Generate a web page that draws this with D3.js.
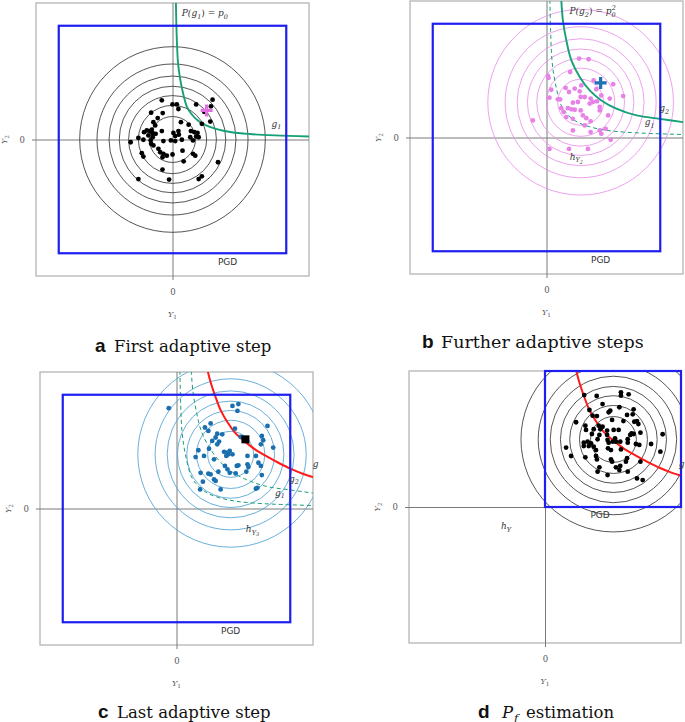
<!DOCTYPE html>
<html><head><meta charset="utf-8">
<script src="https://cdn.jsdelivr.net/npm/d3@7"></script>
<style>body{margin:0;background:#fff}svg{display:block}</style>
</head><body>
<svg id="chart" width="685" height="722"></svg>
<script>
// ---------------- DATA ----------------
const axisDomain = [-6, 6];
const zeroTick = [0];
const contourRadii = [4.08, 3.32, 2.79, 2.34, 1.93, 1.50, 1.01];
const centerA = [0, 0];
const centerB = [1.5, 1.55];
const centerC = [2.38, 2.38];
const centerD = [3.02, 2.98];
const pgdFull = [[-5, -5], [5, 5]];
const pgdQuadrant = [[0, 0], [6, 6]];

const samplesA = [[-0.47,1.72],[0,1.54],[0.19,1.54],[0.26,1.34],[-0.94,1.18],[-0.43,1.16],[-0.65,0.94],[-0.84,0.76],[-0.76,0.62],[0.37,0.76],[0.71,0.65],[1.29,0.69],[1.76,1.75],[1.69,1.46],[1.40,1.21],[1.66,0.79],[1.04,1.54],[-1.25,0.32],[-1.13,0.40],[-1.01,0.37],[-0.91,0.43],[-0.87,0.28],[-0.74,0.25],[-1.06,0.18],[-0.47,0.37],[0.04,0.29],[0.26,0.37],[0.12,0.15],[0.28,0.21],[0.81,0.37],[0.96,0.32],[1.10,0.29],[1.04,0.13],[1.15,0.10],[0.78,0.10],[-1.50,0.07],[-1.84,-0.12],[-1.28,-0.01],[-0.96,-0.04],[-0.94,-0.19],[-0.84,-0.26],[-0.40,-0.07],[-0.07,-0.04],[0.12,-0.07],[0.41,-0.01],[0.90,-0.04],[-0.54,-0.56],[-0.40,-0.63],[-0.25,-0.71],[-0.44,-0.78],[0,-0.66],[0.44,-0.49],[0.90,-0.63],[1.0,-0.71],[0.49,-0.96],[-1.35,-0.60],[-1.28,-0.75],[-0.44,-1.32],[-1.50,-1.74],[-0.15,-1.76],[1.15,-1.74],[1.29,-1.62],[2.0,-1.0],[-0.62,-0.41],[-0.87,0.10]];

const samplesB = [[1.43,3.47],[1.85,3.44],[1.04,2.88],[0.06,2.71],[0.09,2.62],[0.21,2.10],[0.13,1.75],[-0.60,0.75],[2.07,2.51],[2.93,2.34],[3.37,1.82],[2.78,1.71],[2.41,1.85],[2.19,2.12],[0.84,2.18],[0.99,2.0],[1.24,2.15],[1.53,2.29],[1.46,2.03],[1.68,1.78],[1.5,1.78],[1.94,1.71],[0.60,1.68],[1.16,1.53],[1.38,1.56],[1.90,1.49],[2.04,1.56],[2.22,1.59],[2.34,1.34],[0.65,1.29],[0.75,1.12],[0.94,1.29],[1.09,1.24],[1.24,1.22],[0.87,0.90],[1.16,0.82],[1.5,1.19],[1.60,0.97],[1.75,0.85],[1.68,0.53],[1.94,0.71],[2.34,1.19],[2.71,0.97],[1.16,0.31],[1.94,0.24],[2.34,0.31],[2.41,0.16],[2.6,0.38],[0.99,-0.5],[1.82,-0.5],[0.13,-0.5],[2.82,-0.1],[0.5,1.68]];

const samplesC = [[-0.34,4.41],[2.46,4.51],[2.72,4.59],[2.68,4.29],[4.0,3.63],[1.25,3.56],[1.40,3.41],[1.79,3.29],[1.72,3.12],[2.01,3.26],[2.57,3.51],[2.82,3.15],[3.01,3.0],[3.75,3.19],[3.81,3.0],[3.71,2.82],[4.25,2.68],[1.57,2.97],[1.87,2.94],[1.79,2.82],[0.96,2.56],[1.43,2.63],[0.84,2.26],[1.21,2.31],[1.65,2.16],[2.09,2.49],[2.24,2.46],[2.34,2.53],[2.19,2.31],[2.28,2.38],[2.46,2.38],[3.12,2.31],[3.49,2.31],[1.06,1.57],[1.40,1.53],[1.5,1.5],[1.84,1.62],[2.13,1.87],[2.24,1.72],[2.65,1.87],[2.72,1.90],[3.12,1.94],[3.16,1.82],[3.6,2.01],[3.71,1.87],[2.34,1.57],[2.60,1.54],[3.75,1.47],[1.65,1.28],[1.72,1.21],[1.94,0.84],[1.04,0.84],[3.49,0.87],[3.56,0.91],[3.07,1.62],[1.16,1.18],[1.5,3.74]];

const samplesD = [[2.28,4.90],[3.35,5.06],[3.35,4.91],[3.69,4.97],[1.96,4.28],[2.54,4.54],[3.28,4.40],[2.10,4.03],[2.29,4.01],[2.88,4.25],[2.81,4.18],[3.91,4.31],[3.87,4.09],[3.62,4.06],[2.96,3.84],[1.37,3.74],[1.78,3.59],[2.37,3.59],[2.54,3.54],[3.46,3.79],[3.94,3.76],[4.12,3.66],[4.06,3.79],[1.81,3.40],[2.15,3.43],[2.44,3.43],[2.74,3.37],[3.03,3.40],[3.25,3.40],[4.21,3.28],[3.82,3.25],[3.76,3.18],[3.91,3.22],[2.07,3.22],[2.40,3.18],[2.74,3.18],[5.19,3.21],[2.32,2.99],[2.76,2.96],[3.09,3.03],[3.65,2.99],[1.71,2.84],[1.88,2.88],[2.03,2.81],[2.81,2.84],[2.99,2.88],[3.13,2.88],[3.32,2.88],[3.65,2.84],[4.01,2.78],[4.16,2.74],[4.68,2.78],[0.93,2.62],[1.71,2.69],[1.93,2.69],[2.15,2.66],[2.25,2.51],[2.78,2.59],[2.91,2.51],[3.35,2.54],[1.15,2.25],[1.78,2.19],[2.25,2.25],[2.29,2.10],[2.91,2.10],[2.96,2.0],[3.57,2.0],[3.62,2.15],[4.21,2.0],[5.09,2.44],[2.4,1.75],[3.13,1.75],[3.28,1.63],[3.32,1.81],[2.76,1.41],[2.32,1.56],[4.06,1.26],[4.31,1.19],[3.65,1.56],[1.73,4.94]];

const curveG1 = [[0.15,6.05],[0.18,4.7],[0.24,3.4],[0.33,2.7],[0.45,2.1],[0.63,1.45],[0.85,1.1],[1.1,0.85],[1.45,0.63],[1.9,0.47],[2.6,0.32],[3.4,0.24],[4.5,0.18],[6.05,0.13]];
const curveG2 = [[0.65,6.05],[0.72,5.16],[0.87,4.28],[1.09,3.40],[1.46,2.66],[1.9,2.07],[2.41,1.63],[3.07,1.27],[3.96,0.97],[4.98,0.82],[6.05,0.67]];
const curveG = [[1.37,6.05],[1.5,5.55],[1.7,4.95],[1.95,4.3],[2.25,3.78],[2.6,3.3],[3.0,2.95],[3.45,2.6],[3.95,2.3],[4.5,2.0],[5.05,1.73],[5.55,1.53],[6.05,1.37]];

const designPointA = [1.5, 1.28];
const designPointB = [2.38, 2.40];
const designPointC = [3.03, 3.04];

const captionLetters = ["a", "b", "c", "d"];
const captionTexts = ["First adaptive step", "Further adaptive steps", "Last adaptive step", "estimation"];

// ---------------- STYLE / LAYOUT ----------------
const GREEN = "#16a077", RED = "#ff1a1a", BLUE = "#1e1ef0", VIOLET = "#e98ae9", STEEL = "#1b6fae";
const SERIF = "'DejaVu Serif', 'Liberation Serif', serif";
const svg = d3.select("#chart");
const defs = svg.append("defs");

const panels = [
  {key:"a", left:36, top:3, size:273,
   circles:{center:centerA, color:"#2a2a2a", w:0.8},
   dots:{data:samplesA, color:"#000"},
   curves:[{data:curveG1, color:GREEN, w:1.9}],
   box:pgdFull, pgdAt:[2.42,-5.38],
   marker:{type:"plus", at:designPointA, color:"#e070e0"},
   labels:[{parts:[["P(g",1],["1",1,"sub"],[") = ",0],["p",1],["0",1,"sub"]], at:[0.41,5.43], anchor:"start"},
           {parts:[["g",1],["1",1,"sub"]], at:[4.57,0.57], anchor:"middle"}]},
  {key:"b", left:410, top:1, size:273,
   circles:{center:centerB, color:VIOLET, w:0.8},
   dots:{data:samplesB, color:"#e783e7"},
   curves:[{data:curveG1, color:GREEN, w:1, dash:"4,3"},{data:curveG2, color:GREEN, w:1.9}],
   box:pgdFull, pgdAt:[2.38,-5.36],
   marker:{type:"plus", at:designPointB, color:"#1f72b4"},
   labels:[{parts:[["P(g",1],["2",1,"sub"],[") = ",0],["p",1],["0",1,"sub"],["2",1,"sup"]], at:[1.01,5.43], anchor:"start"},
           {parts:[["g",1],["2",1,"sub"]], at:[5.17,1.15], anchor:"middle"},
           {parts:[["g",1],["1",1,"sub"]], at:[4.54,0.53], anchor:"middle"},
           {parts:[["h",1],["Y",1,"sub"],["2",1,"subsub"]], at:[1.31,-0.98], anchor:"middle"}]},
  {key:"c", left:40, top:372, size:273,
   circles:{center:centerC, color:"#5aa6d6", w:0.9},
   dots:{data:samplesC, color:STEEL},
   curves:[{data:curveG1, color:GREEN, w:1, dash:"4,3"},{data:curveG2, color:GREEN, w:1, dash:"4,3"},{data:curveG, color:RED, w:2}],
   box:pgdFull, pgdAt:[2.38,-5.38],
   marker:{type:"square", at:designPointC, color:"#000"},
   labels:[{parts:[["g",1]], at:[6.12,1.81], anchor:"middle"},
           {parts:[["g",1],["2",1,"sub"]], at:[5.16,1.18], anchor:"middle"},
           {parts:[["g",1],["1",1,"sub"]], at:[4.55,0.57], anchor:"middle"},
           {parts:[["h",1],["Y",1,"sub"],["3",1,"subsub"]], at:[3.34,-1.05], anchor:"middle"}]},
  {key:"d", left:409, top:371, size:272,
   circles:{center:centerD, color:"#2a2a2a", w:0.8},
   dots:{data:samplesD, color:"#000"},
   curves:[{data:curveG, color:RED, w:2}],
   box:pgdQuadrant, pgdAt:[2.43,-0.35],
   labels:[{parts:[["g",1]], at:[6.03,1.75], anchor:"middle"},
           {parts:[["h",1],["Y",1,"sub"]], at:[-1.72,-0.98], anchor:"middle"}]}
];

function richText(sel, parts, size) {
  let shift = 0;
  parts.forEach(([t, ital, kind]) => {
    const ts = sel.append("tspan").text(t);
    if (ital) ts.attr("font-style", "italic");
    let target = 0, fs = size;
    if (kind === "sub") { target = size*0.3; fs = size*0.72; }
    if (kind === "subsub") { target = size*0.45; fs = size*0.55; }
    if (kind === "sup") { target = -size*0.45; fs = size*0.72; ts.attr("dx", -size*0.42); }
    ts.attr("dy", target - shift).attr("font-size", fs);
    shift = target;
  });
}

panels.forEach(p => {
  const x = d3.scaleLinear().domain(axisDomain).range([p.left, p.left + p.size]);
  const y = d3.scaleLinear().domain(axisDomain).range([p.top + p.size, p.top]);
  const g = svg.append("g");
  const clipId = "clip-" + p.key;
  defs.append("clipPath").attr("id", clipId).append("rect")
    .attr("x", p.left).attr("y", p.top).attr("width", p.size).attr("height", p.size);

  // frame
  g.append("rect").attr("x", p.left).attr("y", p.top).attr("width", p.size).attr("height", p.size)
    .attr("fill", "none").attr("stroke", "#b4b4b4").attr("stroke-width", 1.3);

  // zero axes (ticks spanning the frame)
  const ext = 4;
  const ax = g.append("g").attr("transform", `translate(0,${p.top + p.size + ext})`)
    .call(d3.axisBottom(x).tickValues(zeroTick).tickFormat(d3.format("d"))
      .tickSizeInner(-(p.size + ext)).tickSizeOuter(0).tickPadding(9));
  const ay = g.append("g").attr("transform", `translate(${p.left - ext},0)`)
    .call(d3.axisLeft(y).tickValues(zeroTick).tickFormat(d3.format("d"))
      .tickSizeInner(-(p.size + ext)).tickSizeOuter(0).tickPadding(7));
  [ax, ay].forEach(a => {
    a.select(".domain").remove();
    a.selectAll(".tick line").attr("stroke", "#7a7a7a").attr("stroke-width", 1);
    a.selectAll(".tick text").attr("font-family", SERIF).attr("font-size", 8.5).attr("fill", "#555");
  });

  // axis titles
  const xt = g.append("text").attr("x", x(0)).attr("y", p.top + p.size + 41)
    .attr("text-anchor", "middle").attr("font-family", SERIF).attr("font-size", 8).attr("fill", "#555");
  richText(xt, [["Y",1],["1",0,"sub"]], 8);
  const yt = g.append("text").attr("transform", `translate(${p.left - 29},${y(0)}) rotate(-90)`)
    .attr("text-anchor", "middle").attr("font-family", SERIF).attr("font-size", 8).attr("fill", "#555");
  richText(yt, [["Y",1],["2",0,"sub"]], 8);

  const inner = g.append("g").attr("clip-path", `url(#${clipId})`);
  // contour circles
  inner.selectAll("circle.contour").data(contourRadii).join("circle").attr("class", "contour")
    .attr("cx", x(p.circles.center[0])).attr("cy", y(p.circles.center[1]))
    .attr("r", d => x(d) - x(0))
    .attr("fill", "none").attr("stroke", p.circles.color).attr("stroke-width", p.circles.w);

  // limit state curves
  const line = d3.line().x(d => x(d[0])).y(d => y(d[1])).curve(d3.curveCatmullRom.alpha(0.5));
  p.curves.forEach(c => {
    inner.append("path").attr("d", line(c.data)).attr("fill", "none")
      .attr("stroke", c.color).attr("stroke-width", c.w)
      .attr("stroke-dasharray", c.dash || null);
  });

  // samples
  inner.selectAll("circle.pt").data(p.dots.data).join("circle").attr("class", "pt")
    .attr("cx", d => x(d[0])).attr("cy", d => y(d[1])).attr("r", 2.4).attr("fill", p.dots.color);

  // PGD box
  g.append("rect")
    .attr("x", x(p.box[0][0])).attr("y", y(p.box[1][1]))
    .attr("width", x(p.box[1][0]) - x(p.box[0][0])).attr("height", y(p.box[0][1]) - y(p.box[1][1]))
    .attr("fill", "none").attr("stroke", BLUE).attr("stroke-width", 2.2);
  g.append("text").attr("x", x(p.pgdAt[0])).attr("y", y(p.pgdAt[1])).attr("dy", "0.35em")
    .attr("text-anchor", "middle").attr("font-family", "'DejaVu Sans', sans-serif").attr("font-size", 9)
    .attr("fill", "#333").text("PGD");

  // marker
  if (p.marker) {
    const mx = x(p.marker.at[0]), my = y(p.marker.at[1]);
    if (p.marker.type === "plus") {
      g.append("path").attr("d", `M${mx-6},${my}H${mx+6}M${mx},${my-6}V${my+6}`)
        .attr("stroke", p.marker.color).attr("stroke-width", 3.2);
    } else {
      g.append("rect").attr("x", mx - 4).attr("y", my - 4).attr("width", 8).attr("height", 8)
        .attr("fill", p.marker.color);
    }
  }

  // annotations
  p.labels.forEach(l => {
    const t = g.append("text").attr("x", x(l.at[0])).attr("y", y(l.at[1])).attr("dy", "0.3em")
      .attr("text-anchor", l.anchor).attr("font-family", SERIF).attr("font-size", 9).attr("fill", "#333");
    richText(t, l.parts, 9);
  });
});

// captions
const capPos = [[95, 352], [422, 348], [98, 718], [478, 718]];
captionLetters.forEach((L, i) => {
  svg.append("text").attr("x", capPos[i][0]).attr("y", capPos[i][1])
    .attr("font-family", "'Liberation Sans', Arial, sans-serif").attr("font-weight", "bold")
    .attr("font-size", 19).attr("fill", "#111").text(L);
  const fs = i === 1 ? 17.5 : 16.5;
  if (i === 3) {
    svg.append("text").attr("x", capPos[i][0] + 24).attr("y", capPos[i][1])
      .attr("font-family", SERIF).attr("font-style", "italic").attr("font-size", fs).attr("fill", "#111").text("P");
    svg.append("text").attr("x", capPos[i][0] + 36).attr("y", capPos[i][1] + 4)
      .attr("font-family", SERIF).attr("font-style", "italic").attr("font-size", 11.5).attr("fill", "#111").text("f");
    svg.append("text").attr("x", capPos[i][0] + 48).attr("y", capPos[i][1])
      .attr("font-family", SERIF).attr("font-size", fs).attr("fill", "#111").text(captionTexts[i]);
  } else {
    svg.append("text").attr("x", capPos[i][0] + 19).attr("y", capPos[i][1])
      .attr("font-family", SERIF).attr("font-size", fs).attr("fill", "#111").text(captionTexts[i]);
  }
});
</script>
</body></html>
